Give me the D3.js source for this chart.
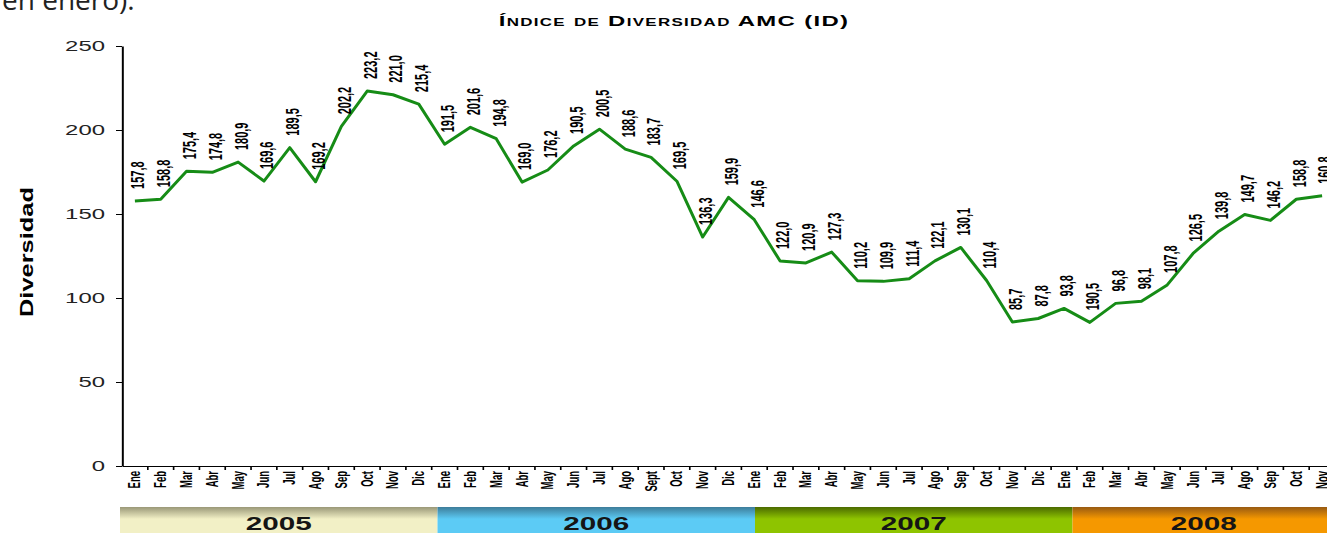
<!DOCTYPE html>
<html>
<head>
<meta charset="utf-8">
<script src="https://cdn.jsdelivr.net/npm/d3@7"></script>
<style>
  body { margin: 0; background: #fff; }
  svg { display: block; }
</style>
</head>
<body>
<div id="chart"></div>
<script>
/* data */
var months = ["Ene","Feb","Mar","Abr","May","Jun","Jul","Ago","Sep","Oct","Nov","Dic",
              "Ene","Feb","Mar","Abr","May","Jun","Jul","Ago","Sept","Oct","Nov","Dic",
              "Ene","Feb","Mar","Abr","May","Jun","Jul","Ago","Sep","Oct","Nov","Dic",
              "Ene","Feb","Mar","Abr","May","Jun","Jul","Ago","Sep","Oct","Nov"];
var years = ["2005","2006","2007","2008"];
var values = [157.8,158.8,175.4,174.8,180.9,169.6,189.5,169.2,202.2,223.2,221.0,215.4,
              191.5,201.6,194.8,169.0,176.2,190.5,200.5,188.6,183.7,169.5,136.3,159.9,
              146.6,122.0,120.9,127.3,110.2,109.9,111.4,122.1,130.1,110.4,85.7,87.8,
              93.8,85.5,96.8,98.1,107.8,126.5,139.8,149.7,146.2,158.8,160.8];
/* labels as printed on the chart (one of them does not match its point) */
var valueLabels = ["157,8","158,8","175,4","174,8","180,9","169,6","189,5","169,2","202,2","223,2","221,0","215,4",
                   "191,5","201,6","194,8","169,0","176,2","190,5","200,5","188,6","183,7","169,5","136,3","159,9",
                   "146,6","122,0","120,9","127,3","110,2","109,9","111,4","122,1","130,1","110,4","85,7","87,8",
                   "93,8","190,5","96,8","98,1","107,8","126,5","139,8","149,7","146,2","158,8","160,8"];
var yTicks = [0, 50, 100, 150, 200, 250];

/* size of the graphic */
var width = 1327, height = 533;
var stretch = 1.65;              // the source chart image is stretched sideways
var plotLeft = 122, plotRight = 1335; // plot edges on screen
var plotTop = 46, plotBottom = 466;

var svg = d3.select("#chart")
  .append("svg")
    .attr("width", width)
    .attr("height", height)
    .style("font-family", "'Liberation Sans', Arial, sans-serif");

/* leftover text of the surrounding page */
svg.append("text")
  .attr("x", 2)
  .attr("y", 10)
  .style("font-family", "'Open Sans', sans-serif")
  .style("font-size", "28px")
  .attr("fill", "#222")
  .text("en enero).");

var g = svg.append("g").attr("transform", "scale(" + stretch + ",1)");

var x = d3.scaleBand()
  .domain(d3.range(values.length))
  .range([plotLeft / stretch, plotRight / stretch]);
var y = d3.scaleLinear()
  .domain([0, 250])
  .range([plotBottom, plotTop]);
var cx = function(i) { return x(i) + x.bandwidth() / 2; };

/* y axis */
var yAxis = g.append("g")
  .attr("transform", "translate(" + (plotLeft / stretch) + ",0)")
  .call(d3.axisLeft(y).tickValues(yTicks).tickSize(6 / stretch).tickPadding(11 / stretch).tickSizeOuter(0));
yAxis.select(".domain").attr("stroke", "#000").attr("stroke-width", 1.2);
yAxis.selectAll(".tick line").attr("stroke", "#000");
yAxis.selectAll("text").style("font-size", "14.5px").attr("fill", "#222");

/* x axis */
var xAxis = g.append("g")
  .attr("transform", "translate(0," + plotBottom + ")")
  .call(d3.axisBottom(x).tickFormat(function(i) { return months[i]; }).tickSize(0).tickSizeOuter(0));
xAxis.select(".domain").attr("stroke", "#000");
xAxis.selectAll(".tick").append("line")
  .attr("x1", x.bandwidth() / 2)
  .attr("x2", x.bandwidth() / 2)
  .attr("y2", 4)
  .attr("stroke", "#000");
xAxis.selectAll(".tick text")
  .attr("transform", "rotate(-90)")
  .attr("x", -5)
  .attr("y", 0)
  .attr("dy", "0.35em")
  .attr("text-anchor", "end")
  .attr("fill", "#000")
  .style("font-size", "9.5px")
  .style("font-weight", "bold");

/* the series */
var line = d3.line()
  .x(function(d, i) { return cx(i); })
  .y(function(d) { return y(d); });

g.append("path")
  .datum(values)
  .attr("d", line)
  .attr("fill", "none")
  .attr("stroke", "#168c16")
  .attr("stroke-width", 3)
  .attr("stroke-linejoin", "round")
  .attr("vector-effect", "non-scaling-stroke");

g.selectAll(".val")
  .data(values)
  .enter().append("text")
    .attr("class", "val")
    .attr("transform", function(d, i) {
      return "translate(" + (cx(i) + 3 / stretch) + "," + (y(d) - 12) + ") rotate(-90)";
    })
    .attr("dy", "0.35em")
    .style("font-size", "11px")
    .style("font-weight", "bold")
    .text(function(d, i) { return valueLabels[i]; });

/* title */
g.append("text")
  .attr("x", 674 / stretch)
  .attr("y", 26)
  .attr("text-anchor", "middle")
  .style("font-size", "14.5px")
  .style("font-weight", "bold")
  .style("font-variant", "small-caps")
  .style("letter-spacing", "0.8px")
  .text("Índice de Diversidad AMC (ID)");

/* y axis title */
g.append("text")
  .attr("transform", "translate(" + (33 / stretch) + "," + ((plotTop + plotBottom) / 2 - 4) + ") rotate(-90)")
  .attr("text-anchor", "middle")
  .attr("textLength", 130)
  .attr("lengthAdjust", "spacingAndGlyphs")
  .style("font-size", "11.5px")
  .style("font-weight", "bold")
  .text("Diversidad");

/* year strip */
var yb = d3.scaleBand()
  .domain(years)
  .range([120 / stretch, 1390 / stretch]);
var bandColors = {
  "2005": ["#9a9878", "#f2f0c6"],
  "2006": ["#3d7d9a", "#5ccbf5"],
  "2007": ["#4b6a00", "#8ec400"],
  "2008": ["#985a12", "#f59800"]
};
var defs = svg.append("defs");
years.forEach(function(yr) {
  var grad = defs.append("linearGradient")
    .attr("id", "band" + yr)
    .attr("x1", 0).attr("y1", 0).attr("x2", 0).attr("y2", 1);
  grad.append("stop").attr("offset", "0%").attr("stop-color", bandColors[yr][0]);
  grad.append("stop").attr("offset", "40%").attr("stop-color", bandColors[yr][1]);
  grad.append("stop").attr("offset", "100%").attr("stop-color", bandColors[yr][1]);
});

g.selectAll(".band")
  .data(years)
  .enter().append("rect")
    .attr("class", "band")
    .attr("x", function(d) { return yb(d); })
    .attr("y", 507)
    .attr("width", yb.bandwidth())
    .attr("height", 30)
    .attr("fill", function(d) { return "url(#band" + d + ")"; });

g.selectAll(".yearLabel")
  .data(years)
  .enter().append("text")
    .attr("class", "yearLabel")
    .attr("x", function(d) { return (yb(d) + Math.min(yb(d) + yb.bandwidth(), plotRight / stretch)) / 2; })
    .attr("y", 530)
    .attr("text-anchor", "middle")
    .attr("fill", "#151515")
    .style("font-size", "18px")
    .style("font-weight", "bold")
    .text(function(d) { return d; });
</script>
</body>
</html>
